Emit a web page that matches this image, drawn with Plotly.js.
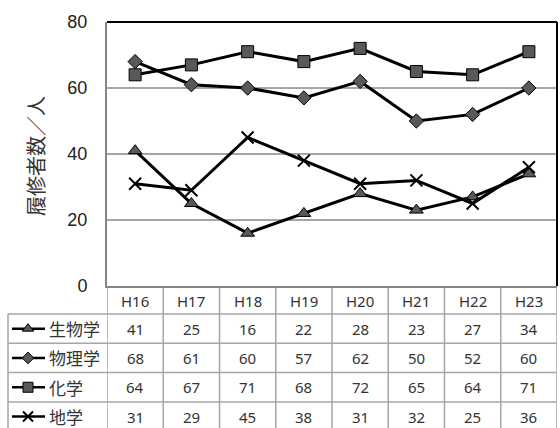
<!DOCTYPE html>
<html><head><meta charset="utf-8">
<script src="https://cdn.plot.ly/plotly-3.0.1.min.js"></script>
<style>html,body{margin:0;padding:0;background:#fff}#c{width:560px;height:428px}</style>
</head><body><div id="c"></div>
<script>
const years = ['H16','H17','H18','H19','H20','H21','H22','H23'];
const seriesNames = ['生物学','物理学','化学','地学'];
const biology = [41,25,16,22,28,23,27,34];
const physics = [68,61,60,57,62,50,52,60];
const chemistry = [64,67,71,68,72,65,64,71];
const earth = [31,29,45,38,31,32,25,36];
const yTicks = [0,20,40,60,80];

const seriesData = [biology, physics, chemistry, earth];
const symbols = ['triangle-up','diamond','square','x-thin-open'];
const msizes = [12,11,12,12];
const legendSizes = [10,9,10,10];

const W = 560, H = 428;
const L = 0, R = 3, T = 22, B = 0;
const plotLeft = 107, plotBottom = 286;
const paperW = W - L - R, paperH = H - T - B;
const xd0 = (plotLeft - L) / paperW;
const yd0 = (H - B - plotBottom) / paperH;

const rowLines = [314, 343.3, 372.6, 401.9, 431.2];
const headerCenter = 301;
const rowCenters = rowLines.slice(0,4).map((v,i)=> (v + rowLines[i+1]) / 2);

const gridColor = '#a6a6a6';
const tableColor = '#a6a6a6';
const markerFill = '#595959';

function markerFor(i, size){
  if (symbols[i] === 'x-thin-open') return {symbol: symbols[i], size: size, color: '#000', line:{color:'#000', width:2}};
  return {symbol: symbols[i], size: size, color: markerFill, line:{color:'#000', width:1}};
}

const traces = [];
seriesData.forEach((d,i)=>{
  traces.push({x: years, y: d, type:'scatter', mode:'lines+markers', xaxis:'x', yaxis:'y',
    line:{color:'#000', width:3}, marker: markerFor(i, msizes[i]), cliponaxis:false, showlegend:false});
});
seriesNames.forEach((n,i)=>{
  const yc = rowCenters[i];
  traces.push({x:[12,45], y:[yc,yc], type:'scatter', mode:'lines', xaxis:'x2', yaxis:'y2',
    line:{color:'#000', width:2.5}, showlegend:false});
  traces.push({x:[28], y:[yc], type:'scatter', mode:'markers', xaxis:'x2', yaxis:'y2',
    marker: markerFor(i, legendSizes[i]), showlegend:false, cliponaxis:false});
});

const shapes = [];
const annotations = [];
shapes.push({type:'line', xref:'paper', yref:'paper', x0:xd0, x1:1, y0:1, y1:1, line:{color:'#000', width:2}});
shapes.push({type:'line', xref:'paper', yref:'paper', x0:1, x1:1, y0:yd0, y1:1, line:{color:'#000', width:2}});
for (let i=0;i<=years.length;i++){
  shapes.push({type:'line', xref:'x', yref:'y2', x0:i-0.5, x1:i-0.5, y0:plotBottom, y1:H+5, line:{color:tableColor, width:1.5}, layer:'below'});
}
shapes.push({type:'line', xref:'x2', yref:'y2', x0:8, x1:8, y0:rowLines[0], y1:H+5, line:{color:tableColor, width:1.5}});
rowLines.slice(0,4).forEach(v=>{
  shapes.push({type:'line', xref:'paper', yref:'y2', x0:(8-L)/paperW, x1:1, y0:v, y1:v, line:{color:tableColor, width:1.5}});
});
years.forEach(yr=>{
  annotations.push({xref:'x', yref:'y2', x:yr, y:headerCenter, text:yr, showarrow:false,
    font:{family:'Noto Sans, sans-serif', size:15, color:'#333'}});
});
seriesData.forEach((d,i)=>{
  d.forEach((v,j)=>{
    annotations.push({xref:'x', yref:'y2', x:years[j], y:rowCenters[i], text:String(v), showarrow:false,
      font:{family:'Noto Sans, sans-serif', size:15, color:'#333'}});
  });
  annotations.push({xref:'x2', yref:'y2', x:47, y:rowCenters[i], xanchor:'left', text:seriesNames[i], showarrow:false,
    font:{family:'Noto Sans CJK JP, sans-serif', size:17, color:'#333'}});
});
annotations.push({xref:'paper', yref:'paper', x:(35-L)/paperW, y:(H-B-156)/paperH, xanchor:'center', yanchor:'middle',
  text:'履修者数／人', textangle:-90,
  showarrow:false, font:{family:'Noto Sans CJK JP, sans-serif', size:20, color:'#333'}});

const layout = {
  width:W, height:H, margin:{l:L, r:R, t:T, b:B}, paper_bgcolor:'#fff', plot_bgcolor:'#fff',
  showlegend:false,
  xaxis:{domain:[xd0,1], type:'category', categoryarray:years, range:[-0.5, years.length-0.5],
    showticklabels:false, ticks:'', showgrid:false, zeroline:false,
    showline:true, linecolor:'#868686', linewidth:2},
  yaxis:{domain:[yd0,1], range:[0,80], tickvals:yTicks, ticktext:yTicks.map(String),
    showgrid:true, gridcolor:gridColor, gridwidth:1.5, zeroline:false,
    showline:true, linecolor:'#868686', linewidth:2, ticks:'', ticklabelstandoff:14,
    tickfont:{family:'Liberation Sans, Arial, sans-serif', size:18, color:'#222'}},
  xaxis2:{domain:[0,xd0], range:[0,plotLeft], visible:false, anchor:'y2'},
  yaxis2:{domain:[0,yd0], range:[H, plotBottom], visible:false, anchor:'x2'},
  shapes, annotations
};
Plotly.newPlot('c', traces, layout, {staticPlot:true});
</script></body></html>
